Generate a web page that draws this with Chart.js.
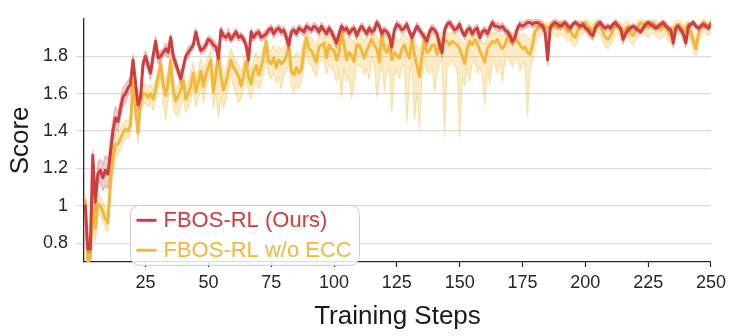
<!DOCTYPE html>
<html>
<head>
<meta charset="utf-8">
<script src="https://cdn.jsdelivr.net/npm/chart.js@4.4.1/dist/chart.umd.min.js"></script>
<style>
  html, body { margin: 0; padding: 0; background: #ffffff; }
  #wrap { width: 731px; height: 336px; }
</style>
</head>
<body>
<div id="wrap"><canvas id="chart" width="731" height="336"></canvas></div>
<script>
// Score per training step (steps 1..250), mean curve and band of each run.
const seriesNames = ['FBOS-RL (Ours)', 'FBOS-RL w/o ECC'];

const oursMean = [
  1.00, 0.77, 0.77, 1.27, 1.02, 1.17, 1.19, 1.15, 1.19, 1.17,
  1.28, 1.40, 1.47, 1.45, 1.52, 1.58, 1.60, 1.63, 1.65, 1.78,
  1.66, 1.54, 1.58, 1.76, 1.80, 1.75, 1.71, 1.80, 1.88, 1.79,
  1.80, 1.82, 1.84, 1.82, 1.90, 1.80, 1.76, 1.72, 1.68, 1.74,
  1.80, 1.82, 1.84, 1.86, 1.93, 1.87, 1.83, 1.84, 1.86, 1.89,
  1.88, 1.86, 1.85, 1.79, 1.94, 1.91, 1.90, 1.92, 1.89, 1.91,
  1.93, 1.90, 1.91, 1.89, 1.86, 1.78, 1.93, 1.90, 1.92, 1.93,
  1.90, 1.91, 1.92, 1.94, 1.95, 1.92, 1.94, 1.95, 1.93, 1.94,
  1.90, 1.86, 1.93, 1.94, 1.92, 1.95, 1.94, 1.93, 1.96, 1.95,
  1.94, 1.96, 1.95, 1.93, 1.96, 1.94, 1.92, 1.95, 1.93, 1.90,
  1.87, 1.92, 1.96, 1.94, 1.95, 1.92, 1.94, 1.95, 1.91, 1.94,
  1.96, 1.94, 1.92, 1.95, 1.93, 1.94, 1.98, 1.96, 1.92, 1.94,
  1.93, 1.91, 1.85, 1.94, 1.97, 1.96, 1.94, 1.95, 1.97, 1.93,
  1.90, 1.93, 1.96, 1.94, 1.92, 1.90, 1.88, 1.93, 1.95, 1.94,
  1.92, 1.86, 1.82, 1.94, 1.97, 1.98, 1.96, 1.94, 1.95, 1.97,
  1.93, 1.91, 1.94, 1.95, 1.92, 1.94, 1.95, 1.90, 1.93, 1.94,
  1.92, 1.95, 1.98, 1.96, 1.96, 1.95, 1.96, 1.94, 1.93, 1.91,
  1.88, 1.90, 1.95, 1.97, 1.96, 1.97, 1.98, 1.98, 1.97, 1.98,
  1.98, 1.97, 1.96, 1.93, 1.78, 1.95, 1.97, 1.98, 1.97, 1.96,
  1.97, 1.98, 1.96, 1.95, 1.97, 1.98, 1.97, 1.96, 1.97, 1.95,
  1.94, 1.92, 1.91, 1.95, 1.97, 1.98, 1.96, 1.95, 1.96, 1.95,
  1.97, 1.98, 1.96, 1.95, 1.89, 1.92, 1.94, 1.95, 1.96, 1.95,
  1.94, 1.93, 1.95, 1.97, 1.98, 1.97, 1.96, 1.95, 1.96, 1.97,
  1.98, 1.96, 1.95, 1.94, 1.87, 1.95, 1.96, 1.94, 1.92, 1.87,
  1.96, 1.97, 1.98, 1.96, 1.95, 1.96, 1.97, 1.96, 1.95, 1.97
];

// half-width of the shaded band around oursMean
const oursSpread = [
  0.02, 0.02, 0.02, 0.03, 0.05, 0.06, 0.06, 0.07, 0.08, 0.08,
  0.07, 0.06, 0.06, 0.05, 0.05, 0.05, 0.05, 0.04, 0.04, 0.03,
  0.03, 0.03, 0.03, 0.03, 0.03, 0.03, 0.04, 0.03, 0.03, 0.03,
  0.03, 0.02, 0.03, 0.03, 0.02, 0.03, 0.03, 0.03, 0.03, 0.02,
  0.02, 0.03, 0.02, 0.02, 0.02, 0.03, 0.02, 0.02, 0.03, 0.02,
  0.02, 0.03, 0.02, 0.03, 0.02, 0.02, 0.02, 0.03, 0.02, 0.02,
  0.02, 0.02, 0.02, 0.02, 0.03, 0.03, 0.02, 0.02, 0.02, 0.02,
  0.02, 0.02, 0.02, 0.02, 0.02, 0.025, 0.02, 0.02, 0.02, 0.02,
  0.03, 0.03, 0.02, 0.02, 0.02, 0.02, 0.02, 0.02, 0.02, 0.02,
  0.02, 0.02, 0.02, 0.02, 0.02, 0.02, 0.02, 0.02, 0.02, 0.025,
  0.03, 0.02, 0.02, 0.02, 0.02, 0.02, 0.02, 0.02, 0.02, 0.02,
  0.02, 0.02, 0.02, 0.02, 0.02, 0.02, 0.02, 0.02, 0.02, 0.02,
  0.02, 0.02, 0.03, 0.02, 0.02, 0.02, 0.02, 0.02, 0.02, 0.02,
  0.02, 0.02, 0.02, 0.02, 0.02, 0.02, 0.025, 0.02, 0.02, 0.02,
  0.02, 0.025, 0.03, 0.02, 0.02, 0.02, 0.02, 0.02, 0.02, 0.02,
  0.02, 0.02, 0.02, 0.02, 0.02, 0.02, 0.02, 0.02, 0.02, 0.02,
  0.02, 0.02, 0.02, 0.02, 0.02, 0.02, 0.02, 0.02, 0.02, 0.02,
  0.025, 0.02, 0.02, 0.02, 0.02, 0.02, 0.02, 0.02, 0.02, 0.02,
  0.02, 0.02, 0.02, 0.02, 0.03, 0.02, 0.02, 0.02, 0.02, 0.02,
  0.015, 0.015, 0.02, 0.015, 0.015, 0.015, 0.015, 0.02, 0.015, 0.015,
  0.015, 0.02, 0.02, 0.015, 0.015, 0.015, 0.015, 0.015, 0.015, 0.015,
  0.015, 0.015, 0.015, 0.015, 0.025, 0.02, 0.015, 0.015, 0.015, 0.015,
  0.015, 0.015, 0.015, 0.015, 0.015, 0.015, 0.015, 0.015, 0.015, 0.015,
  0.015, 0.015, 0.015, 0.015, 0.025, 0.015, 0.015, 0.015, 0.02, 0.025,
  0.015, 0.015, 0.015, 0.015, 0.015, 0.015, 0.015, 0.015, 0.015, 0.015
];

const ablMean = [
  1.03, 0.70, 0.72, 1.01, 0.88, 1.01, 1.00, 0.97, 0.93, 0.91,
  1.12, 1.25, 1.33, 1.33, 1.36, 1.39, 1.41, 1.40, 1.43, 1.66,
  1.52, 1.39, 1.55, 1.60, 1.60, 1.58, 1.60, 1.57, 1.62, 1.69,
  1.76, 1.65, 1.59, 1.66, 1.78, 1.62, 1.56, 1.59, 1.62, 1.67,
  1.57, 1.60, 1.64, 1.71, 1.61, 1.66, 1.72, 1.64, 1.70, 1.74,
  1.78, 1.61, 1.70, 1.82, 1.69, 1.62, 1.66, 1.72, 1.78, 1.74,
  1.72, 1.69, 1.64, 1.70, 1.77, 1.69, 1.65, 1.72, 1.75, 1.70,
  1.74, 1.80, 1.88, 1.77, 1.76, 1.79, 1.74, 1.78, 1.76, 1.77,
  1.80, 1.86, 1.72, 1.70, 1.74, 1.71, 1.73, 1.83, 1.90, 1.84,
  1.83, 1.80, 1.77, 1.85, 1.86, 1.87, 1.79, 1.86, 1.84, 1.83,
  1.78, 1.82, 1.93, 1.86, 1.78, 1.82, 1.80, 1.77, 1.86, 1.86,
  1.83, 1.79, 1.83, 1.86, 1.89, 1.86, 1.84, 1.77, 1.92, 1.84,
  1.82, 1.86, 1.78, 1.82, 1.80, 1.79, 1.84, 1.86, 1.82, 1.79,
  1.89, 1.81, 1.75, 1.69, 1.80, 1.88, 1.82, 1.83, 1.86, 1.86,
  1.81, 1.86, 1.89, 1.88, 1.88, 1.86, 1.88, 1.87, 1.86, 1.84,
  1.80, 1.76, 1.84, 1.88, 1.86, 1.89, 1.87, 1.83, 1.80, 1.77,
  1.84, 1.86, 1.88, 1.87, 1.89, 1.86, 1.84, 1.86, 1.90, 1.88,
  1.87, 1.89, 1.88, 1.86, 1.84, 1.85, 1.82, 1.81, 1.86, 1.93,
  1.95, 1.96, 1.97, 1.96, 1.95, 1.96, 1.97, 1.96, 1.95, 1.97,
  1.96, 1.95, 1.93, 1.94, 1.91, 1.90, 1.94, 1.96, 1.97, 1.98,
  1.96, 1.95, 1.93, 1.97, 1.98, 1.96, 1.93, 1.90, 1.89, 1.91,
  1.94, 1.96, 1.97, 1.95, 1.93, 1.95, 1.96, 1.92, 1.91, 1.94,
  1.96, 1.98, 1.97, 1.96, 1.95, 1.97, 1.98, 1.96, 1.95, 1.94,
  1.96, 1.97, 1.93, 1.91, 1.94, 1.96, 1.97, 1.96, 1.93, 1.95,
  1.97, 1.93, 1.88, 1.84, 1.92, 1.96, 1.98, 1.97, 1.96, 1.98
];

const ablLow = [
  0.98, 0.70, 0.70, 0.93, 0.80, 0.95, 0.95, 0.92, 0.88, 0.86,
  1.05, 1.18, 1.26, 1.27, 1.30, 1.34, 1.36, 1.36, 1.38, 1.58,
  1.46, 1.33, 1.50, 1.54, 1.55, 1.53, 1.55, 1.51, 1.56, 1.62,
  1.68, 1.55, 1.46, 1.56, 1.68, 1.52, 1.49, 1.48, 1.53, 1.58,
  1.50, 1.52, 1.57, 1.63, 1.53, 1.57, 1.64, 1.55, 1.62, 1.67,
  1.70, 1.52, 1.60, 1.47, 1.58, 1.52, 1.57, 1.64, 1.70, 1.64,
  1.60, 1.55, 1.57, 1.62, 1.70, 1.60, 1.57, 1.63, 1.67, 1.62,
  1.66, 1.72, 1.78, 1.70, 1.68, 1.71, 1.66, 1.69, 1.62, 1.70,
  1.72, 1.76, 1.64, 1.60, 1.66, 1.62, 1.66, 1.75, 1.82, 1.76,
  1.75, 1.71, 1.69, 1.77, 1.78, 1.78, 1.70, 1.76, 1.74, 1.72,
  1.66, 1.72, 1.58, 1.74, 1.66, 1.70, 1.57, 1.66, 1.76, 1.75,
  1.74, 1.70, 1.74, 1.67, 1.80, 1.75, 1.58, 1.68, 1.80, 1.61,
  1.72, 1.74, 1.50, 1.70, 1.72, 1.68, 1.74, 1.76, 1.45, 1.68,
  1.77, 1.46, 1.60, 1.41, 1.70, 1.78, 1.72, 1.71, 1.75, 1.61,
  1.70, 1.76, 1.78, 1.37, 1.76, 1.75, 1.78, 1.76, 1.72, 1.37,
  1.68, 1.64, 1.74, 1.67, 1.76, 1.79, 1.71, 1.74, 1.70, 1.54,
  1.74, 1.65, 1.78, 1.76, 1.71, 1.77, 1.66, 1.78, 1.80, 1.78,
  1.74, 1.78, 1.79, 1.72, 1.76, 1.77, 1.48, 1.72, 1.78, 1.86,
  1.90, 1.91, 1.92, 1.91, 1.88, 1.91, 1.92, 1.91, 1.90, 1.92,
  1.91, 1.90, 1.88, 1.89, 1.86, 1.85, 1.89, 1.91, 1.92, 1.93,
  1.91, 1.90, 1.88, 1.92, 1.93, 1.91, 1.88, 1.85, 1.84, 1.86,
  1.89, 1.91, 1.92, 1.90, 1.88, 1.90, 1.91, 1.87, 1.86, 1.89,
  1.91, 1.93, 1.92, 1.91, 1.90, 1.92, 1.93, 1.91, 1.90, 1.89,
  1.91, 1.92, 1.88, 1.86, 1.89, 1.91, 1.92, 1.91, 1.88, 1.90,
  1.92, 1.88, 1.83, 1.80, 1.87, 1.91, 1.93, 1.92, 1.91, 1.93
];

const ablHigh = [
  1.07, 0.74, 0.76, 1.08, 0.95, 1.06, 1.05, 1.02, 0.99, 0.96,
  1.18, 1.31, 1.38, 1.39, 1.41, 1.44, 1.46, 1.45, 1.48, 1.71,
  1.57, 1.45, 1.60, 1.65, 1.65, 1.63, 1.65, 1.62, 1.67, 1.74,
  1.81, 1.71, 1.66, 1.72, 1.83, 1.68, 1.62, 1.66, 1.68, 1.72,
  1.63, 1.67, 1.71, 1.77, 1.68, 1.73, 1.79, 1.71, 1.77, 1.80,
  1.83, 1.68, 1.76, 1.86, 1.76, 1.70, 1.73, 1.79, 1.84, 1.80,
  1.78, 1.75, 1.72, 1.77, 1.83, 1.76, 1.73, 1.79, 1.82, 1.78,
  1.81, 1.86, 1.92, 1.84, 1.83, 1.86, 1.82, 1.85, 1.84, 1.85,
  1.87, 1.91, 1.80, 1.79, 1.82, 1.80, 1.82, 1.89, 1.94, 1.90,
  1.90, 1.88, 1.86, 1.91, 1.92, 1.92, 1.87, 1.92, 1.91, 1.90,
  1.87, 1.90, 1.96, 1.92, 1.88, 1.90, 1.89, 1.87, 1.92, 1.92,
  1.90, 1.88, 1.90, 1.92, 1.94, 1.92, 1.91, 1.87, 1.95, 1.91,
  1.90, 1.92, 1.88, 1.90, 1.89, 1.88, 1.91, 1.92, 1.90, 1.88,
  1.93, 1.89, 1.85, 1.82, 1.88, 1.93, 1.90, 1.90, 1.92, 1.92,
  1.89, 1.92, 1.93, 1.93, 1.93, 1.92, 1.93, 1.92, 1.92, 1.90,
  1.88, 1.85, 1.90, 1.93, 1.92, 1.94, 1.92, 1.90, 1.88, 1.86,
  1.90, 1.92, 1.93, 1.92, 1.94, 1.92, 1.91, 1.92, 1.94, 1.93,
  1.92, 1.94, 1.93, 1.92, 1.91, 1.92, 1.90, 1.89, 1.92, 1.96,
  1.98, 1.99, 1.99, 1.98, 1.98, 1.98, 1.99, 1.98, 1.98, 1.99,
  1.99, 1.98, 1.97, 1.97, 1.95, 1.94, 1.97, 1.99, 1.99, 2.00,
  1.99, 1.98, 1.97, 1.99, 2.00, 1.99, 1.97, 1.94, 1.93, 1.95,
  1.97, 1.99, 1.99, 1.98, 1.97, 1.98, 1.99, 1.96, 1.95, 1.97,
  1.99, 2.00, 1.99, 1.99, 1.98, 1.99, 2.00, 1.99, 1.98, 1.97,
  1.99, 1.99, 1.96, 1.95, 1.97, 1.99, 1.99, 1.99, 1.96, 1.98,
  1.99, 1.96, 1.92, 1.88, 1.95, 1.98, 2.00, 1.99, 1.98, 2.00
];

const xTickValues = [25, 50, 75, 100, 125, 150, 175, 200, 225, 250];
const yTickValues = [0.8, 1.0, 1.2, 1.4, 1.6, 1.8];

const steps = oursMean.map((_, i) => i + 1);
const toPoints = vals => vals.map((v, i) => ({ x: steps[i], y: v }));

const RED = '#d13d3e';
const ORANGE = '#f5b73a';

Chart.defaults.font.family = '"Liberation Sans", Arial, sans-serif';

// rounded legend panel placed inside the plot area
const legendPanel = {
  id: 'legendPanel',
  afterDatasetsDraw(chart) {
    const { ctx, chartArea } = chart;
    const x = chartArea.left + 46.5, y = chartArea.top + 186.5;
    const w = 229, h = 60;
    ctx.save();
    ctx.beginPath();
    ctx.roundRect(x, y, w, h, 9);
    ctx.fillStyle = 'rgba(255,255,255,0.85)';
    ctx.fill();
    ctx.lineWidth = 1;
    ctx.strokeStyle = '#cccccc';
    ctx.stroke();
    const items = [[seriesNames[0], RED], [seriesNames[1], ORANGE]];
    ctx.font = '22px "Liberation Sans", Arial, sans-serif';
    ctx.textBaseline = 'middle';
    ctx.textAlign = 'left';
    items.forEach(([label, color], i) => {
      const cy = y + 15 + i * 30;
      ctx.beginPath();
      ctx.moveTo(x + 6, cy);
      ctx.lineTo(x + 26, cy);
      ctx.strokeStyle = color;
      ctx.lineWidth = 3;
      ctx.stroke();
      ctx.fillStyle = color;
      ctx.fillText(label, x + 33, cy + 1);
    });
    ctx.restore();
  }
};

const bandEdge = (color) => ({
  borderColor: color,
  borderWidth: 1.2,
  pointRadius: 0,
  tension: 0
});

new Chart(document.getElementById('chart'), {
  type: 'line',
  data: {
    datasets: [
      {
        label: seriesNames[0],
        data: toPoints(oursMean),
        borderColor: RED,
        borderWidth: 3,
        pointRadius: 0,
        fill: false,
        order: 0
      },
      {
        label: 'ours-upper',
        data: toPoints(oursMean.map((m, i) => m + oursSpread[i])),
        ...bandEdge('rgba(209,61,62,0.30)'),
        backgroundColor: 'rgba(209,61,62,0.25)',
        fill: '+1',
        order: 1
      },
      {
        label: 'ours-lower',
        data: toPoints(oursMean.map((m, i) => m - oursSpread[i])),
        ...bandEdge('rgba(209,61,62,0.30)'),
        fill: false,
        order: 1
      },
      {
        label: seriesNames[1],
        data: toPoints(ablMean),
        borderColor: ORANGE,
        borderWidth: 3,
        pointRadius: 0,
        fill: false,
        order: 2
      },
      {
        label: 'abl-upper',
        data: toPoints(ablHigh),
        ...bandEdge('rgba(245,183,58,0.35)'),
        backgroundColor: 'rgba(245,190,70,0.30)',
        fill: '+1',
        order: 3
      },
      {
        label: 'abl-lower',
        data: toPoints(ablLow),
        ...bandEdge('rgba(245,183,58,0.35)'),
        fill: false,
        order: 3
      }
    ]
  },
  options: {
    responsive: false,
    animation: false,
    devicePixelRatio: 1,
    layout: { padding: { top: 5.5, right: 17.5, left: 0, bottom: 0 } },
    elements: { line: { borderJoinStyle: 'round', borderCapStyle: 'round' } },
    plugins: {
      legend: { display: false },
      tooltip: { enabled: false }
    },
    scales: {
      x: {
        type: 'linear',
        min: 0.5,
        max: 250,
        afterBuildTicks: s => { s.ticks = xTickValues.map(v => ({ value: v })); },
        afterFit: s => { s.height = 74; },
        ticks: {
          autoSkip: false,
          maxRotation: 0,
          color: '#262626',
          padding: 5,
          font: { size: 18 }
        },
        grid: {
          drawOnChartArea: false,
          drawTicks: true,
          tickLength: 5,
          color: '#262626',
          tickWidth: 1.2
        },
        border: { display: true, color: '#262626', width: 1.3 },
        title: {
          display: true,
          text: 'Training Steps',
          color: '#1a1a1a',
          font: { size: 26 },
          padding: { top: 0, bottom: 4 }
        }
      },
      y: {
        type: 'linear',
        min: 0.7,
        max: 2.0,
        afterBuildTicks: s => { s.ticks = yTickValues.map(v => ({ value: v })); },
        afterFit: s => { s.width = 84; },
        ticks: {
          color: '#262626',
          padding: 8,
          font: { size: 18 },
          callback: v => String(Number(v.toFixed(1)))
        },
        grid: {
          color: '#dcdcdc',
          lineWidth: 1.3,
          drawTicks: true,
          tickLength: 8
        },
        border: { display: true, color: '#262626', width: 1.3 },
        title: {
          display: true,
          text: 'Score',
          color: '#1a1a1a',
          font: { size: 26 },
          padding: { top: 5, bottom: 0 }
        }
      }
    }
  },
  plugins: [legendPanel]
});
</script>
</body>
</html>
